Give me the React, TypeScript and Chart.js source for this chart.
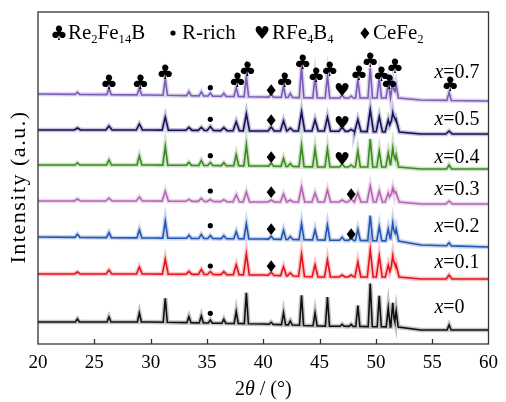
import React, { useEffect, useRef } from 'react';
import { Chart, registerables } from 'chart.js';
Chart.register(...registerables);

// ---------------- data ----------------
const X_MIN = 20;
const X_MAX = 60;
const Y_MIN = 0;
const Y_MAX = 332;
const xTickStep = 5;

const seriesLabels = ['0.7', '0.5', '0.4', '0.3', '0.2', '0.1', '0'];
const seriesColors = ['#7b5cb8', '#15105c', '#3d8b1e', '#b566b5', '#2556b3', '#e3141b', '#111111'];

const peakPositions = [23.5, 26.3, 29.0, 31.3, 33.4, 34.5, 35.3, 36.5, 37.6, 38.5, 40.7, 41.8, 42.4, 43.4, 44.6, 45.7, 47.0, 47.8, 48.4, 49.5, 50.3, 51.1, 51.5, 51.8, 56.5];

const peaks07 = [2, 6, 7, 16, 4, 4, 3, 3, 9, 20, 3, 11, 4, 31, 21, 22, 3, 2, 18, 30, 20, 15, 16, 13, 8];
const peaks05 = [2, 4, 6, 13, 3, 3, 4, 3, 9, 17, 4, 10, 3, 19, 11, 14, 4, 2, 12, 22, 15, 12, 19, 12, 3];
const peaks04 = [2, 5, 9, 19, 3, 5, 3, 3, 11, 21, 3, 8, 3, 21, 18, 18, 3, 2, 16, 28, 16, 14, 19, 12, 4];
const peaks03 = [2, 3, 4, 10, 2, 3, 2, 2, 7, 10, 2, 8, 2, 15, 9, 12, 2, 3, 9, 16, 11, 9, 14, 9, 3];
const peaks02 = [3, 5, 8, 17, 3, 4, 3, 3, 7, 15, 3, 9, 3, 16, 10, 15, 3, 3, 11, 25, 14, 12, 18, 12, 3];
const peaks01 = [2, 4, 7, 15, 3, 5, 3, 3, 10, 21, 3, 9, 3, 22, 12, 17, 2, 2, 15, 27, 21, 12, 21, 12, 4];
const peaks00 = [3, 5, 9, 24, 6, 7, 3, 4, 12, 31, 2, 12, 4, 30, 13, 29, 2, 2, 21, 43, 31, 19, 24, 16, 5];

const peakHalfWidths = [0.2, 0.28, 0.22, 0.28, 0.22, 0.26, 0.18];

const baselineNodes = [20, 30, 40, 45, 52, 54, 60];
const base07 = [250, 249, 247, 246, 246, 244, 243];
const base05 = [214, 214, 213, 213, 212, 210, 210];
const base04 = [179, 179, 178, 177, 177, 175, 175];
const base03 = [143, 143, 142, 142, 142, 140, 140];
const base02 = [107, 106, 105, 104, 103, 99, 97];
const base01 = [70, 70, 69, 67, 67, 65, 65];
const base00 = [22, 22, 20, 18, 17, 14, 14];

const labelXPos = 55.2;
const labelYValues = [272.3, 225.7, 187.3, 155.7, 119, 82.3, 37.3];

// markers: kind (c=club, d=dot, h=heart, m=diamond), 2θ, intensity value
const markerKinds = ['c', 'c', 'c', 'd', 'c', 'c', 'm', 'c', 'c', 'c', 'c', 'h', 'c', 'c', 'c', 'c', 'c', 'c',
  'd', 'm', 'h',
  'd', 'm', 'h',
  'd', 'm', 'm',
  'd', 'm', 'm',
  'd', 'm',
  'd'];
const markerX = [26.3, 29.1, 31.3, 35.3, 37.7, 38.6, 40.7, 41.9, 43.5, 44.7, 45.9, 47.0, 48.5, 49.5, 50.5, 51.2, 51.7, 56.6,
  35.3, 40.7, 47.0,
  35.3, 40.7, 47.0,
  35.3, 40.7, 47.8,
  35.3, 40.7, 47.8,
  35.3, 40.7,
  35.3];
const markerY = [262.3, 262.3, 272.3, 256.3, 264, 275.7, 254, 264, 282.3, 269, 275.7, 254, 271.3, 284, 270, 262.3, 278, 260.7,
  224.7, 223.3, 221.3,
  188.3, 186.7, 185.7,
  153, 151.7, 149.7,
  118.3, 114.7, 110,
  78, 78,
  30.7];

const seriesPeaks = [peaks07, peaks05, peaks04, peaks03, peaks02, peaks01, peaks00];
const seriesBases = [base07, base05, base04, base03, base02, base01, base00];

// ---------------- build ----------------
function baseAt(base: number[], x: number) {
  for (let i = 0; i < baselineNodes.length - 1; i++) {
    const a = baselineNodes[i], b = baselineNodes[i + 1];
    if (x >= a && x <= b) return base[i] + (base[i + 1] - base[i]) * (x - a) / (b - a);
  }
  return base[base.length - 1];
}

function buildSeries(k: number) {
  const w = peakHalfWidths[k];
  const heights = seriesPeaks[k];
  const base = seriesBases[k];
  const xs = new Set<number>(baselineNodes);
  peakPositions.forEach((p, i) => {
    if (heights[i] > 0) {
      xs.add(+(p - w).toFixed(3));
      xs.add(p);
      xs.add(+(p + w).toFixed(3));
    }
  });
  const sorted = Array.from(xs).sort((a, b) => a - b);
  return sorted.map((x) => {
    let y = baseAt(base, x);
    peakPositions.forEach((p, i) => {
      const d = Math.abs(x - p);
      if (d < w) y += heights[i] * (1 - d / w);
    });
    return { x, y };
  });
}

function hexA(hex: string, a: number) {
  const r = parseInt(hex.slice(1, 3), 16), g = parseInt(hex.slice(3, 5), 16), b = parseInt(hex.slice(5, 7), 16);
  return `rgba(${r},${g},${b},${a})`;
}

const SERIF = '"Liberation Serif", "Times New Roman", serif';
const SYM = '"DejaVu Sans", sans-serif';

function drawSymbol(ctx: CanvasRenderingContext2D, kind: string, x: number, y: number) {
  ctx.save();
  ctx.fillStyle = '#000';
  if (kind === 'd') {
    ctx.beginPath();
    ctx.arc(x, y, 2.6, 0, Math.PI * 2);
    ctx.fill();
  } else {
    const glyph = kind === 'c' ? '\u2663' : kind === 'h' ? '\u2665' : '\u2666';
    const size = kind === 'm' ? 16 : kind === 'h' ? 18 : 20;
    ctx.font = `${size}px ${SYM}`;
    ctx.textAlign = 'center';
    ctx.textBaseline = 'alphabetic';
    ctx.fillText(glyph, x, y + size * 0.36);
  }
  ctx.restore();
}

function drawRich(ctx: CanvasRenderingContext2D, parts: [string, string][], x: number, y: number, size: number) {
  let cx = x;
  parts.forEach(([style, txt]) => {
    let fs = size;
    let dy = 0;
    let fontStyle = '';
    if (style === 'sub') { fs = size * 0.6; dy = size * 0.2; }
    if (style === 'i') fontStyle = 'italic ';
    ctx.font = `${fontStyle}${fs}px ${SERIF}`;
    ctx.fillText(txt, cx, y + dy);
    cx += ctx.measureText(txt).width;
  });
  return cx;
}

const decorPlugin = {
  id: 'decor',
  afterDatasetsDraw(chart: any) {
    const { ctx, chartArea } = chart;
    const xs = chart.scales.x;
    const ys = chart.scales.y;
    ctx.save();
    // frame
    ctx.strokeStyle = '#333';
    ctx.lineWidth = 1.3;
    ctx.strokeRect(chartArea.left, chartArea.top, chartArea.right - chartArea.left, chartArea.bottom - chartArea.top);
    // inside ticks
    ctx.beginPath();
    for (let v = X_MIN + xTickStep; v < X_MAX; v += xTickStep) {
      const px = Math.round(xs.getPixelForValue(v)) + 0.5;
      ctx.moveTo(px, chartArea.bottom);
      ctx.lineTo(px, chartArea.bottom - 5);
    }
    ctx.stroke();

    // markers
    markerKinds.forEach((k, i) => {
      drawSymbol(ctx, k, xs.getPixelForValue(markerX[i]), ys.getPixelForValue(markerY[i]));
    });

    // series labels
    ctx.fillStyle = '#000';
    ctx.textAlign = 'left';
    ctx.textBaseline = 'alphabetic';
    seriesLabels.forEach((lab, i) => {
      const px = xs.getPixelForValue(labelXPos);
      const py = ys.getPixelForValue(labelYValues[i]) + 6.5;
      drawRich(ctx, [['i', 'x'], ['n', '=' + lab]], px, py, 20);
    });

    // legend
    const ly = 39;
    drawSymbol(ctx, 'c', 59, 33);
    drawRich(ctx, [['n', 'Re'], ['sub', '2'], ['n', 'Fe'], ['sub', '14'], ['n', 'B']], 68, ly, 21);
    drawSymbol(ctx, 'd', 173, 33);
    drawRich(ctx, [['n', 'R-rich']], 182, ly, 21);
    drawSymbol(ctx, 'h', 262, 33);
    drawRich(ctx, [['n', 'RFe'], ['sub', '4'], ['n', 'B'], ['sub', '4']], 272, ly, 21);
    drawSymbol(ctx, 'm', 365, 33);
    drawRich(ctx, [['n', 'CeFe'], ['sub', '2']], 373, ly, 21);

    // x title
    const parts: [string, string][] = [['n', '2'], ['i', '\u03b8'], ['n', ' / (\u00b0)']];
    let tw = 0;
    parts.forEach(([s, t]) => { ctx.font = `${s === 'i' ? 'italic ' : ''}20px ${SERIF}`; tw += ctx.measureText(t).width; });
    const cxm = (chartArea.left + chartArea.right) / 2;
    drawRich(ctx, parts, cxm - tw / 2, 395, 20);

    // y title
    ctx.save();
    ctx.translate(25, (chartArea.top + chartArea.bottom) / 2 + 9);
    ctx.rotate(-Math.PI / 2);
    ctx.font = `22px ${SERIF}`;
    (ctx as any).letterSpacing = '1.5px';
    ctx.textAlign = 'center';
    ctx.fillText('Intensity (a.u.)', 0, 0);
    ctx.restore();

    ctx.restore();
  },
};

export default function App() {
  const ref = useRef<HTMLCanvasElement>(null);
  useEffect(() => {
    if (!ref.current) return;
    const datasets: any[] = [];
    seriesLabels.forEach((lab, k) => {
      const data = buildSeries(k);
      datasets.push({
        label: 'fuzz ' + lab,
        data,
        borderColor: hexA(seriesColors[k], 0.25),
        borderWidth: 4.5,
        pointRadius: 0,
        tension: 0,
        fill: false,
      });
      datasets.push({
        label: 'x=' + lab,
        data,
        borderColor: seriesColors[k],
        borderWidth: 1.6,
        pointRadius: 0,
        tension: 0,
        fill: false,
      });
    });
    const chart = new Chart(ref.current, {
      type: 'line',
      data: { datasets },
      options: {
        responsive: false,
        animation: false,
        events: [],
        layout: { padding: { top: 12, right: 15, left: 0, bottom: 0 } },
        plugins: { legend: { display: false }, tooltip: { enabled: false } },
        scales: {
          x: {
            type: 'linear',
            min: X_MIN,
            max: X_MAX,
            grid: { display: false, drawTicks: false },
            border: { display: false },
            ticks: {
              stepSize: xTickStep,
              color: '#000',
              padding: 8,
              maxRotation: 0,
              font: { family: SERIF, size: 19 },
            },
            afterFit: (s: any) => { s.height = 58; },
          },
          y: {
            type: 'linear',
            min: Y_MIN,
            max: Y_MAX,
            grid: { display: false, drawTicks: false },
            border: { display: false },
            ticks: { display: false },
            afterFit: (s: any) => { s.width = 38; },
          },
        },
      },
      plugins: [decorPlugin],
    });
    return () => chart.destroy();
  }, []);
  return (
    <div style={{ position: 'fixed', left: 0, top: 0, width: 506, height: 402, background: '#fff' }}>
      <canvas ref={ref} width={506} height={402} style={{ width: 506, height: 402, display: 'block' }} />
    </div>
  );
}
